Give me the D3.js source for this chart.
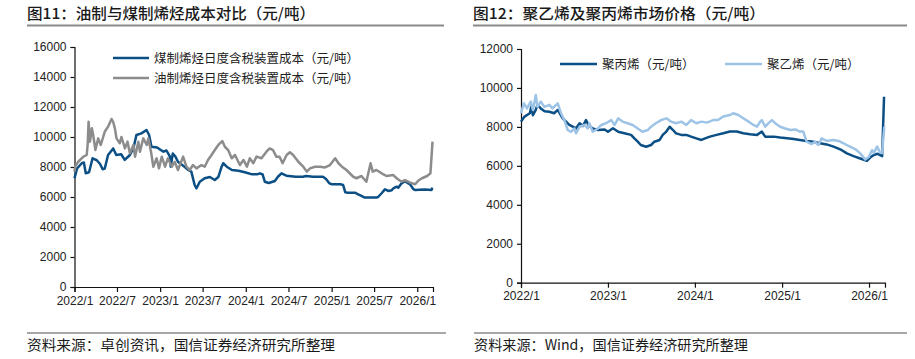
<!DOCTYPE html>
<html><head><meta charset="utf-8">
<script src="https://cdn.jsdelivr.net/npm/d3@7"></script>
<style>
html,body{margin:0;padding:0;background:#fff;}
svg{display:block;}
text{font-family:"Noto Sans CJK SC","Liberation Sans",sans-serif;}
.tick text{font-family:"Liberation Sans",Arial,sans-serif;font-size:12px;fill:#222;}
</style></head>
<body>
<svg id="c" width="915" height="359"></svg>
<script>
// ---------- DATA ----------
const leftTitle = "图11：油制与煤制烯烃成本对比（元/吨）";
const rightTitle = "图12：聚乙烯及聚丙烯市场价格（元/吨）";
const leftSource = "资料来源：卓创资讯，国信证券经济研究所整理";
const rightSource = "资料来源：Wind，国信证券经济研究所整理";
const leftSeriesNames = ["煤制烯烃日度含税装置成本（元/吨）", "油制烯烃日度含税装置成本（元/吨）"];
const rightSeriesNames = ["聚丙烯（元/吨）", "聚乙烯（元/吨）"];
const leftYTicks = [0, 2000, 4000, 6000, 8000, 10000, 12000, 14000, 16000];
const rightYTicks = [0, 2000, 4000, 6000, 8000, 10000, 12000];
const leftXTicks = ["2022/1","2022/7","2023/1","2023/7","2024/1","2024/7","2025/1","2025/7","2026/1"];
const rightXTicks = ["2022/1","2023/1","2024/1","2025/1","2026/1"];

const coalCost = [
["2022-01-01",7250],["2022-01-12",7900],["2022-02-01",8250],["2022-02-10",8300],["2022-02-18",7580],["2022-03-04",7650],
["2022-03-19",8580],["2022-04-06",8450],["2022-04-20",8200],["2022-05-01",7850],["2022-05-10",7900],["2022-05-24",8800],
["2022-06-15",9240],["2022-06-28",8800],["2022-07-19",8850],["2022-08-03",8470],["2022-08-25",8800],["2022-09-09",9240],
["2022-09-22",10130],["2022-10-13",10240],["2022-11-04",10470],["2022-11-15",10130],["2022-11-25",9350],["2022-12-19",9300],
["2023-01-15",9020],["2023-01-28",9100],["2023-02-12",8690],["2023-02-15",8020],["2023-02-24",8900],["2023-03-07",8700],
["2023-03-18",8350],["2023-04-15",8020],["2023-05-01",7800],["2023-05-14",7690],["2023-05-28",6800],["2023-06-05",6580],
["2023-06-19",7020],["2023-07-10",7250],["2023-08-01",7330],["2023-08-22",7130],["2023-09-06",7330],["2023-09-20",8020],
["2023-09-27",8250],["2023-10-12",8020],["2023-11-03",7800],["2023-12-01",7750],["2023-12-28",7650],["2024-01-28",7510],
["2024-02-18",7510],["2024-03-01",7580],["2024-03-13",7500],["2024-03-22",7020],["2024-04-08",6930],["2024-05-04",7070],
["2024-05-17",7350],["2024-06-01",7580],["2024-06-22",7420],["2024-08-01",7350],["2024-09-01",7350],["2024-09-14",7400],
["2024-10-13",7350],["2024-11-25",7350],["2024-12-08",7200],["2024-12-22",6910],["2025-01-02",6850],["2025-02-07",6850],
["2025-02-19",6800],["2025-02-28",6310],["2025-03-10",6290],["2025-04-10",6290],["2025-04-24",6180],["2025-05-08",6070],
["2025-05-22",5960],["2025-07-11",5960],["2025-07-18",6000],["2025-08-02",6250],["2025-08-16",6510],["2025-09-01",6400],
["2025-09-14",6450],["2025-09-21",6580],["2025-10-05",6690],["2025-10-12",6620],["2025-10-26",6910],["2025-11-10",7050],
["2025-11-24",6910],["2025-12-01",6850],["2025-12-15",6530],["2025-12-22",6470],["2026-02-01",6500],["2026-03-03",6470],
["2026-03-06",6620]
];
const oilCost = [
["2022-01-01",7690],["2022-01-04",8020],["2022-01-17",8350],["2022-02-08",8690],["2022-02-22",8800],["2022-02-26",9470],
["2022-03-02",11020],["2022-03-08",9690],["2022-03-16",10580],["2022-03-22",10100],["2022-03-31",9130],["2022-04-12",9910],
["2022-04-23",9470],["2022-05-10",10350],["2022-05-24",10690],["2022-06-08",11200],["2022-06-15",11000],["2022-06-22",10580],
["2022-06-29",9910],["2022-07-13",9580],["2022-07-20",10000],["2022-08-04",9240],["2022-08-15",9690],["2022-08-25",8910],
["2022-09-09",9470],["2022-09-16",8690],["2022-09-30",9690],["2022-10-07",9020],["2022-10-21",9910],["2022-11-05",9470],
["2022-11-12",9910],["2022-11-23",9020],["2022-12-03",8020],["2022-12-17",8580],["2022-12-27",7910],["2023-01-08",8690],
["2023-01-22",8020],["2023-02-03",8580],["2023-02-20",8020],["2023-03-04",8350],["2023-03-18",7800],["2023-04-09",8690],
["2023-04-23",8020],["2023-05-07",7800],["2023-05-21",8130],["2023-06-05",7910],["2023-06-26",8130],["2023-07-10",8020],
["2023-07-24",8470],["2023-08-08",8800],["2023-08-22",9130],["2023-09-06",9470],["2023-09-23",9730],["2023-10-04",9350],
["2023-10-18",9130],["2023-11-02",8580],["2023-11-16",8800],["2023-12-07",8130],["2023-12-22",8470],["2024-01-06",8020],
["2024-01-18",8580],["2024-02-02",8250],["2024-02-16",8690],["2024-03-08",8580],["2024-03-29",9020],["2024-04-12",9240],
["2024-04-26",9130],["2024-05-10",8690],["2024-05-24",8690],["2024-06-06",8250],["2024-06-23",8800],["2024-07-07",8980],
["2024-07-21",8800],["2024-08-12",8350],["2024-09-02",8020],["2024-09-17",7690],["2024-10-01",7910],["2024-10-22",8020],
["2024-11-13",8020],["2024-12-04",7970],["2024-12-25",8130],["2025-01-16",8580],["2025-01-30",8250],["2025-02-14",8020],
["2025-03-05",7800],["2025-04-03",7350],["2025-04-17",7250],["2025-05-08",7400],["2025-05-29",7020],["2025-06-16",8250],
["2025-06-25",7690],["2025-07-11",7800],["2025-08-02",7580],["2025-08-23",7400],["2025-09-21",7460],["2025-10-05",7250],
["2025-10-26",7020],["2025-11-10",7130],["2025-12-02",6960],["2025-12-23",6850],["2026-01-06",7100],["2026-01-21",7250],
["2026-02-12",7400],["2026-02-26",7580],["2026-03-07",9690]
];
const ppPrice = [
["2022-01-01",8270],["2022-01-16",8530],["2022-02-07",8700],["2022-02-13",9040],["2022-02-20",8600],["2022-03-04",8870],
["2022-03-11",9130],["2022-03-25",8950],["2022-04-10",8800],["2022-04-30",8780],["2022-05-20",8700],["2022-06-04",8870],
["2022-06-25",8440],["2022-07-09",8270],["2022-07-23",8100],["2022-08-06",8010],["2022-08-20",7920],["2022-09-04",8190],
["2022-09-18",8050],["2022-10-01",8350],["2022-10-11",8100],["2022-10-29",7920],["2022-11-20",7840],["2022-12-18",7870],
["2023-01-01",7750],["2023-01-22",7930],["2023-02-13",7750],["2023-03-11",7670],["2023-04-08",7590],["2023-04-22",7410],
["2023-05-06",7240],["2023-05-19",7070],["2023-06-10",6980],["2023-07-01",7070],["2023-07-15",7240],["2023-08-06",7330],
["2023-08-19",7590],["2023-09-03",7760],["2023-09-17",8010],["2023-10-01",7840],["2023-10-14",7670],["2023-11-05",7590],
["2023-11-26",7590],["2023-12-16",7500],["2024-01-07",7410],["2024-01-28",7330],["2024-02-13",7410],["2024-03-04",7500],
["2024-04-01",7590],["2024-04-29",7670],["2024-05-27",7760],["2024-06-25",7760],["2024-07-22",7670],["2024-08-20",7620],
["2024-09-18",7590],["2024-10-08",7760],["2024-10-22",7500],["2024-11-26",7500],["2024-12-24",7450],["2025-01-22",7420],
["2025-02-19",7380],["2025-03-16",7330],["2025-04-14",7280],["2025-05-12",7240],["2025-06-10",7160],["2025-07-07",7100],
["2025-08-05",6990],["2025-09-02",6850],["2025-09-30",6640],["2025-10-28",6500],["2025-11-25",6380],["2025-12-23",6260],
["2026-01-07",6440],["2026-01-21",6560],["2026-02-06",6620],["2026-02-25",6500],["2026-03-05",9550]
];
const pePrice = [
["2022-01-01",8700],["2022-01-13",9210],["2022-01-26",8950],["2022-02-11",9300],["2022-02-20",8870],["2022-03-04",9640],
["2022-03-11",9030],["2022-03-25",9300],["2022-04-09",9030],["2022-04-30",9130],["2022-05-13",8950],["2022-06-04",9210],
["2022-06-18",8700],["2022-07-02",8350],["2022-07-16",7840],["2022-07-30",7750],["2022-08-13",7920],["2022-08-20",7670],
["2022-09-04",8010],["2022-09-25",8100],["2022-10-08",7920],["2022-10-15",8190],["2022-10-29",7750],["2022-11-20",7920],
["2022-12-04",8100],["2022-12-24",8190],["2023-01-15",8350],["2023-01-29",8100],["2023-02-13",8440],["2023-03-04",8270],
["2023-03-24",8190],["2023-04-15",8100],["2023-05-06",7920],["2023-05-26",7750],["2023-06-17",7840],["2023-07-01",8010],
["2023-07-21",8190],["2023-08-12",8350],["2023-09-03",8440],["2023-09-23",8270],["2023-10-14",8190],["2023-11-05",8270],
["2023-11-26",8100],["2023-12-16",8350],["2024-01-07",8190],["2024-01-28",8270],["2024-02-20",8220],["2024-03-18",8350],
["2024-04-07",8350],["2024-04-29",8530],["2024-05-27",8610],["2024-06-10",8700],["2024-07-01",8610],["2024-07-22",8440],
["2024-08-13",8270],["2024-09-03",8100],["2024-09-18",8010],["2024-10-01",8270],["2024-10-08",8350],["2024-10-22",8010],
["2024-11-05",8190],["2024-11-19",8350],["2024-12-03",8190],["2024-12-24",8010],["2025-01-14",7920],["2025-02-05",7840],
["2025-02-26",7870],["2025-03-16",7760],["2025-03-31",7760],["2025-04-14",7240],["2025-05-05",7120],["2025-05-19",7240],
["2025-06-02",7070],["2025-06-16",7410],["2025-07-07",7280],["2025-08-05",7330],["2025-08-26",7280],["2025-09-16",7160],
["2025-10-07",7020],["2025-11-05",6850],["2025-11-25",6640],["2025-12-16",6330],["2025-12-30",6440],["2026-01-14",6810],
["2026-01-21",6660],["2026-02-04",6990],["2026-02-16",6700],["2026-02-25",6660],["2026-03-06",8010]
];

// ---------- DRAW ----------
const svg = d3.select("#c");
const parse = d3.timeParse("%Y-%m-%d");
const tickParse = d3.timeParse("%Y/%m");
const BLUE = "#0b4f85", GREY = "#8c8c8c", LIGHT = "#9dc3e6";

function header(x0, x1, title, len){
  svg.append("text").attr("x", x0).attr("y", 19).attr("font-size", 15).attr("font-weight", 500)
    .attr("fill", "#1a1a1a").attr("textLength", len).attr("lengthAdjust", "spacingAndGlyphs").text(title);
  svg.append("line").attr("x1", x0).attr("x2", x1).attr("y1", 25.5).attr("y2", 25.5)
    .attr("stroke", "#8a8a8a").attr("stroke-width", 2);
}
function footer(x0, x1, text, len){
  svg.append("line").attr("x1", x0).attr("x2", x1).attr("y1", 333).attr("y2", 333)
    .attr("stroke", "#8a8a8a").attr("stroke-width", 1.5);
  svg.append("text").attr("x", x0).attr("y", 350).attr("font-size", 14).attr("fill", "#1a1a1a")
    .attr("textLength", len).attr("lengthAdjust", "spacingAndGlyphs").text(text);
}

function chart(cfg){
  const x = d3.scaleTime().domain([parse("2022-01-01"), parse("2026-03-09")]).range([cfg.x0, cfg.x1]);
  const y = d3.scaleLinear().domain([0, cfg.yMax]).range([cfg.y0, cfg.y1]);
  const g = svg.append("g");
  const ya = g.append("g").attr("transform", `translate(${cfg.x0},0)`)
    .call(d3.axisLeft(y).tickValues(cfg.yTicks).tickSize(4).tickPadding(4).tickFormat(d3.format("d")));
  const xa = g.append("g").attr("transform", `translate(0,${cfg.y0})`)
    .call(d3.axisBottom(x).tickValues(cfg.xTicks.map(tickParse)).tickSize(5).tickPadding(4)
      .tickFormat(d3.timeFormat("%Y/%-m")));
  [ya, xa].forEach(a => { a.select(".domain").attr("stroke", "#111").attr("stroke-width", 1.2);
    a.selectAll(".tick line").attr("stroke", "#111").attr("stroke-width", 1.2); });
  const line = d3.line().x(d => x(parse(d[0]))).y(d => y(d[1]));
  cfg.series.forEach(s => {
    g.append("path").datum(s.data).attr("d", line).attr("fill", "none")
      .attr("stroke", s.color).attr("stroke-width", 2.5).attr("stroke-linejoin", "round");
  });
  cfg.legend.forEach(l => {
    g.append("line").attr("x1", l.x).attr("x2", l.x + l.w).attr("y1", l.y).attr("y2", l.y)
      .attr("stroke", l.color).attr("stroke-width", 2.6);
    g.append("text").attr("x", l.x + l.w + 5).attr("y", l.y + 4.5).attr("font-size", 12.5)
      .attr("fill", "#222").text(l.name);
  });
}

header(27, 444, leftTitle, 288);
header(473, 907, rightTitle, 292);
footer(27, 446, leftSource, 308);
footer(474, 907, rightSource, 274);

chart({x0: 74.5, x1: 433, y0: 287, y1: 47, yMax: 16000, yTicks: leftYTicks, xTicks: leftXTicks,
  series: [{data: coalCost, color: BLUE}, {data: oilCost, color: GREY}],
  legend: [{x: 113, w: 36, y: 58, color: BLUE, name: leftSeriesNames[0]},
           {x: 113, w: 36, y: 78, color: GREY, name: leftSeriesNames[1]}]});

chart({x0: 521, x1: 885, y0: 282.7, y1: 49, yMax: 12000, yTicks: rightYTicks, xTicks: rightXTicks,
  series: [{data: ppPrice, color: BLUE}, {data: pePrice, color: LIGHT}],
  legend: [{x: 560, w: 37, y: 64, color: BLUE, name: rightSeriesNames[0]},
           {x: 725, w: 37, y: 64, color: LIGHT, name: rightSeriesNames[1]}]});
</script>
</body></html>
